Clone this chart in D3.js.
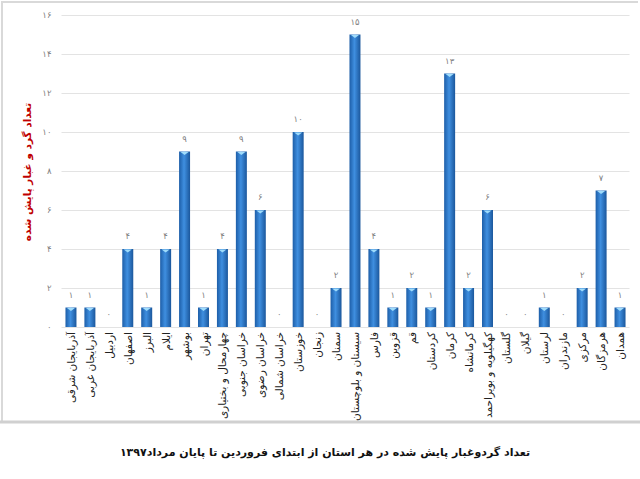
<!DOCTYPE html>
<html>
<head>
<meta charset="utf-8">
<script src="https://cdn.jsdelivr.net/npm/d3@7"></script>
<style>
  body { margin: 0; background: #fff; }
  text { font-family: "DejaVu Sans", Tahoma, sans-serif; }
</style>
</head>
<body>
<div id="chart"></div>
<script>
// provinces, left to right
var provinces = [
  "آذربایجان شرقی", "آذربایجان غربی", "اردبیل", "اصفهان", "البرز", "ایلام",
  "بوشهر", "تهران", "چهارمحال و بختیاری", "خراسان جنوبی", "خراسان رضوی",
  "خراسان شمالی", "خوزستان", "زنجان", "سمنان", "سیستان و بلوچستان", "فارس",
  "قزوین", "قم", "کردستان", "کرمان", "کرمانشاه", "کهگیلویه و بویراحمد",
  "گلستان", "گیلان", "لرستان", "مازندران", "مرکزی", "هرمزگان", "همدان"
];
var counts = [1, 1, 0, 4, 1, 4, 9, 1, 4, 9, 6, 0, 10, 0, 2, 15, 4, 1, 2, 1, 13, 2, 6, 0, 0, 1, 0, 2, 7, 1];
var yTicks = [0, 2, 4, 6, 8, 10, 12, 14, 16];
var yTitle = "تعداد گرد و غبار پایش شده";
var chartTitle = "تعداد گردوغبار پایش شده در هر استان از ابتدای فروردین تا پایان مرداد۱۳۹۷";

var width = 640, height = 479;
var margin = { top: 15, left: 61.5, right: 10.5, bottom: 152 };

function fa(n) {
  return String(n).replace(/[0-9]/g, function (c) { return "۰۱۲۳۴۵۶۷۸۹"[+c]; });
}

var svg = d3.select("#chart")
  .append("svg")
  .attr("width", width)
  .attr("height", height);

var defs = svg.append("defs");
var grad = defs.append("linearGradient")
  .attr("id", "barGrad")
  .attr("x1", "0%").attr("x2", "100%").attr("y1", "0%").attr("y2", "0%");
grad.append("stop").attr("offset", "0%").attr("stop-color", "#1d5ea8");
grad.append("stop").attr("offset", "45%").attr("stop-color", "#3f8fe0");
grad.append("stop").attr("offset", "100%").attr("stop-color", "#1b579c");

// frame
svg.append("path")
  .attr("d", "M2,422 L2,2 L638,2")
  .attr("fill", "none")
  .attr("stroke", "#d9d9d9")
  .attr("stroke-width", 2);
svg.append("line")
  .attr("x1", 0).attr("x2", width)
  .attr("y1", 422).attr("y2", 422)
  .attr("stroke", "#d0d0d0")
  .attr("stroke-width", 3);

var x = d3.scaleBand()
  .domain(provinces)
  .range([margin.left, width - margin.right])
  .paddingInner(0.42)
  .paddingOuter(0.21);

var y = d3.scaleLinear()
  .domain([0, 16])
  .range([height - margin.bottom, margin.top]);

// gridlines + y tick labels
var yAxis = svg.append("g")
  .attr("transform", "translate(" + margin.left + ",0)")
  .call(d3.axisLeft(y)
    .tickValues(yTicks)
    .tickSize(-(width - margin.left - margin.right))
    .tickFormat(fa)
    .tickPadding(10));
yAxis.select(".domain").remove();
yAxis.selectAll("line").attr("stroke", "#e3e3e3");
yAxis.selectAll("text")
  .attr("fill", "#7f7f7f")
  .style("font-size", "8.5px");

// bars
var bars = svg.append("g")
  .selectAll("g")
  .data(provinces)
  .enter()
  .append("g");

bars.filter(function (d, i) { return counts[i] > 0; })
  .append("rect")
  .attr("x", function (d) { return x(d); })
  .attr("y", function (d) { return y(counts[provinces.indexOf(d)]); })
  .attr("width", x.bandwidth())
  .attr("height", function (d) { return y(0) - y(counts[provinces.indexOf(d)]); })
  .attr("fill", "url(#barGrad)");

// top highlight
bars.filter(function (d, i) { return counts[i] > 0; })
  .append("path")
  .attr("d", function (d) {
    var x0 = x(d), w = x.bandwidth(), t = y(counts[provinces.indexOf(d)]);
    return "M" + (x0 + 1.5) + "," + (t + 0.5) + " L" + (x0 + w - 1.5) + "," + (t + 0.5) +
      " L" + (x0 + w / 2) + "," + (t + 3.5) + " Z";
  })
  .attr("fill", "#9fdcfb");

// value labels
svg.append("g")
  .selectAll("text")
  .data(provinces)
  .enter()
  .append("text")
  .attr("x", function (d) { return x(d) + x.bandwidth() / 2; })
  .attr("y", function (d, i) { return y(counts[i]) - 10; })
  .attr("text-anchor", "middle")
  .attr("fill", "#7f7f7f")
  .style("font-size", "8.5px")
  .text(function (d, i) { return fa(counts[i]); });

// category labels
svg.append("g")
  .selectAll("text")
  .data(provinces)
  .enter()
  .append("text")
  .attr("transform", function (d) {
    return "translate(" + (x(d) + x.bandwidth() / 2 + 4) + "," + (y(0) + 5) + ") rotate(-90)";
  })
  .attr("text-anchor", "end")
  .attr("fill", "#222")
  .style("font-size", "10.5px")
  .text(function (d) { return d; });

// y axis title
svg.append("text")
  .attr("transform", "translate(31,172) rotate(-90)")
  .attr("text-anchor", "middle")
  .attr("fill", "#c00000")
  .style("font-size", "10.5px")
  .style("font-weight", "bold")
  .text(yTitle);

// chart title
svg.append("text")
  .attr("x", 325)
  .attr("y", 456)
  .attr("text-anchor", "middle")
  .attr("fill", "#111")
  .style("font-size", "11px")
  .style("font-weight", "bold")
  .text(chartTitle);
</script>
</body>
</html>
